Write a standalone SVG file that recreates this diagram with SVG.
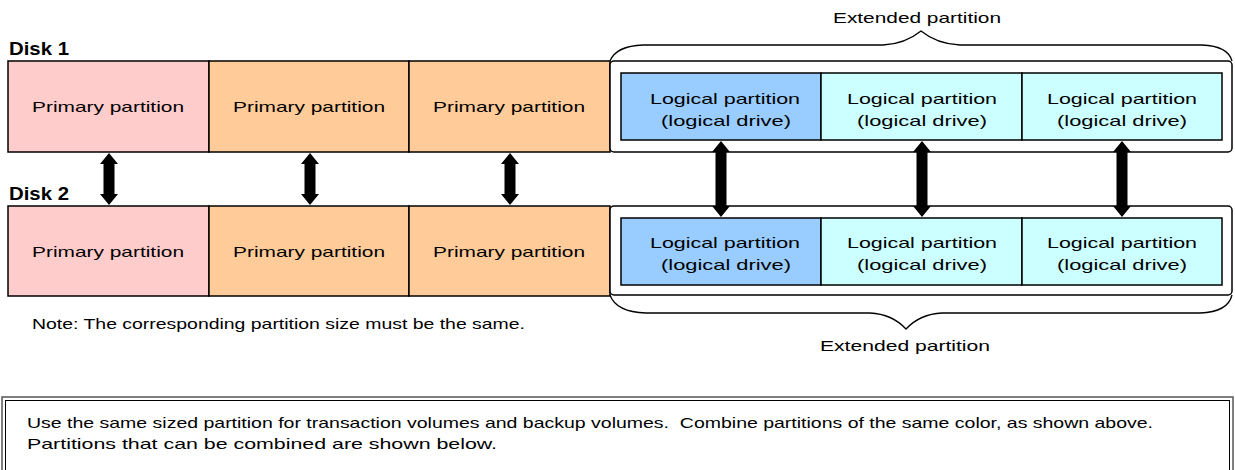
<svg xmlns="http://www.w3.org/2000/svg" width="1235" height="470" viewBox="0 0 1235 470">
<style>
text{font-family:"Liberation Sans",Arial,sans-serif;font-size:15px;fill:#000}
.c{text-anchor:middle}
.disk{font-weight:bold;font-size:18px}
.cell{stroke:#000;stroke-width:1.5}
.pink{fill:#FFCCCC}.orange{fill:#FFCC99}.blue{fill:#99CCFF}.cyan{fill:#CCFFFF}
.ext{fill:#fff;stroke:#000;stroke-width:1.5}
.brace{fill:none;stroke:#000;stroke-width:1.3}
.arr{fill:#000}
</style>
<rect width="1235" height="470" fill="#fff"/>
<g id="disk1-label"><text class="disk" x="9" y="55" textLength="60" lengthAdjust="spacingAndGlyphs">Disk 1</text></g>
<g id="disk2-label"><text class="disk" x="9" y="200" textLength="60" lengthAdjust="spacingAndGlyphs">Disk 2</text></g>
<g id="ext-top">
<path class="brace" d="M610,61 Q616,46 643,45 L883,45 Q905,44 921,31 Q937,44 960,45 L1202,45 Q1228,46 1232,61"/>
<text class="c" x="917" y="23" textLength="168" lengthAdjust="spacingAndGlyphs">Extended partition</text>
</g>
<g id="ext-bottom">
<path class="brace" d="M610,295 Q616,312 646,313 L870,313 Q892,314 906,329 Q920,314 942,313 L1200,313 Q1228,312 1232,295"/>
<text class="c" x="905" y="351" textLength="170" lengthAdjust="spacingAndGlyphs">Extended partition</text>
</g>
<g id="d1p1"><rect class="cell pink" x="8" y="61" width="201" height="91"/><text class="c" x="108" y="112" textLength="152" lengthAdjust="spacingAndGlyphs">Primary partition</text></g>
<g id="d1p2"><rect class="cell orange" x="209" y="61" width="200" height="91"/><text class="c" x="309" y="112" textLength="152" lengthAdjust="spacingAndGlyphs">Primary partition</text></g>
<g id="d1p3"><rect class="cell orange" x="409" y="61" width="201" height="91"/><text class="c" x="509" y="112" textLength="152" lengthAdjust="spacingAndGlyphs">Primary partition</text></g>
<g id="d1ext"><rect class="ext" x="610" y="61" width="622" height="91" rx="4"/></g>
<g id="d1l1"><rect class="cell blue" x="621" y="73" width="200" height="67"/><text class="c" x="725" y="104" textLength="150" lengthAdjust="spacingAndGlyphs">Logical partition</text><text class="c" x="726" y="126" textLength="130" lengthAdjust="spacingAndGlyphs">(logical drive)</text></g>
<g id="d1l2"><rect class="cell cyan" x="821" y="73" width="201" height="67"/><text class="c" x="922" y="104" textLength="150" lengthAdjust="spacingAndGlyphs">Logical partition</text><text class="c" x="922" y="126" textLength="130" lengthAdjust="spacingAndGlyphs">(logical drive)</text></g>
<g id="d1l3"><rect class="cell cyan" x="1022" y="73" width="200" height="67"/><text class="c" x="1122" y="104" textLength="150" lengthAdjust="spacingAndGlyphs">Logical partition</text><text class="c" x="1122" y="126" textLength="130" lengthAdjust="spacingAndGlyphs">(logical drive)</text></g>
<g id="d2p1"><rect class="cell pink" x="8" y="206" width="201" height="90"/><text class="c" x="108" y="257" textLength="152" lengthAdjust="spacingAndGlyphs">Primary partition</text></g>
<g id="d2p2"><rect class="cell orange" x="209" y="206" width="200" height="90"/><text class="c" x="309" y="257" textLength="152" lengthAdjust="spacingAndGlyphs">Primary partition</text></g>
<g id="d2p3"><rect class="cell orange" x="409" y="206" width="201" height="90"/><text class="c" x="509" y="257" textLength="152" lengthAdjust="spacingAndGlyphs">Primary partition</text></g>
<g id="d2ext"><rect class="ext" x="610" y="206" width="622" height="89" rx="4"/></g>
<g id="d2l1"><rect class="cell blue" x="621" y="218" width="200" height="67"/><text class="c" x="725" y="248" textLength="150" lengthAdjust="spacingAndGlyphs">Logical partition</text><text class="c" x="726" y="270" textLength="130" lengthAdjust="spacingAndGlyphs">(logical drive)</text></g>
<g id="d2l2"><rect class="cell cyan" x="821" y="218" width="201" height="67"/><text class="c" x="922" y="248" textLength="150" lengthAdjust="spacingAndGlyphs">Logical partition</text><text class="c" x="922" y="270" textLength="130" lengthAdjust="spacingAndGlyphs">(logical drive)</text></g>
<g id="d2l3"><rect class="cell cyan" x="1022" y="218" width="200" height="67"/><text class="c" x="1122" y="248" textLength="150" lengthAdjust="spacingAndGlyphs">Logical partition</text><text class="c" x="1122" y="270" textLength="130" lengthAdjust="spacingAndGlyphs">(logical drive)</text></g>
<g id="connectors">
<path class="arr" d="M109,153 L118,164 L114.5,164 L114.5,194 L118,194 L109,205 L100,194 L103.5,194 L103.5,164 L100,164 Z"/>
<path class="arr" d="M310,153 L319,164 L315.5,164 L315.5,194 L319,194 L310,205 L301,194 L304.5,194 L304.5,164 L301,164 Z"/>
<path class="arr" d="M510,153 L519,164 L515.5,164 L515.5,194 L519,194 L510,205 L501,194 L504.5,194 L504.5,164 L501,164 Z"/>
<path class="arr" d="M721,141 L730,152 L726.5,152 L726.5,206 L730,206 L721,217 L712,206 L715.5,206 L715.5,152 L712,152 Z"/>
<path class="arr" d="M922,141 L931,152 L927.5,152 L927.5,206 L931,206 L922,217 L913,206 L916.5,206 L916.5,152 L913,152 Z"/>
<path class="arr" d="M1122,141 L1131,152 L1127.5,152 L1127.5,206 L1131,206 L1122,217 L1113,206 L1116.5,206 L1116.5,152 L1113,152 Z"/>
</g>
<g id="note"><text x="32" y="329" font-size="14" textLength="493" lengthAdjust="spacingAndGlyphs">Note: The corresponding partition size must be the same.</text></g>
<g id="info-box">
<rect x="2" y="397" width="1231" height="80" fill="#fff" stroke="#555" stroke-width="1.5"/>
<rect x="5.5" y="400.5" width="1224" height="80" fill="none" stroke="#000" stroke-width="1"/>
<text x="27" y="428" textLength="1126" lengthAdjust="spacingAndGlyphs" xml:space="preserve">Use the same sized partition for transaction volumes and backup volumes.  Combine partitions of the same color, as shown above.</text>
<text x="27" y="449" textLength="470" lengthAdjust="spacingAndGlyphs">Partitions that can be combined are shown below.</text>
</g>
</svg>
